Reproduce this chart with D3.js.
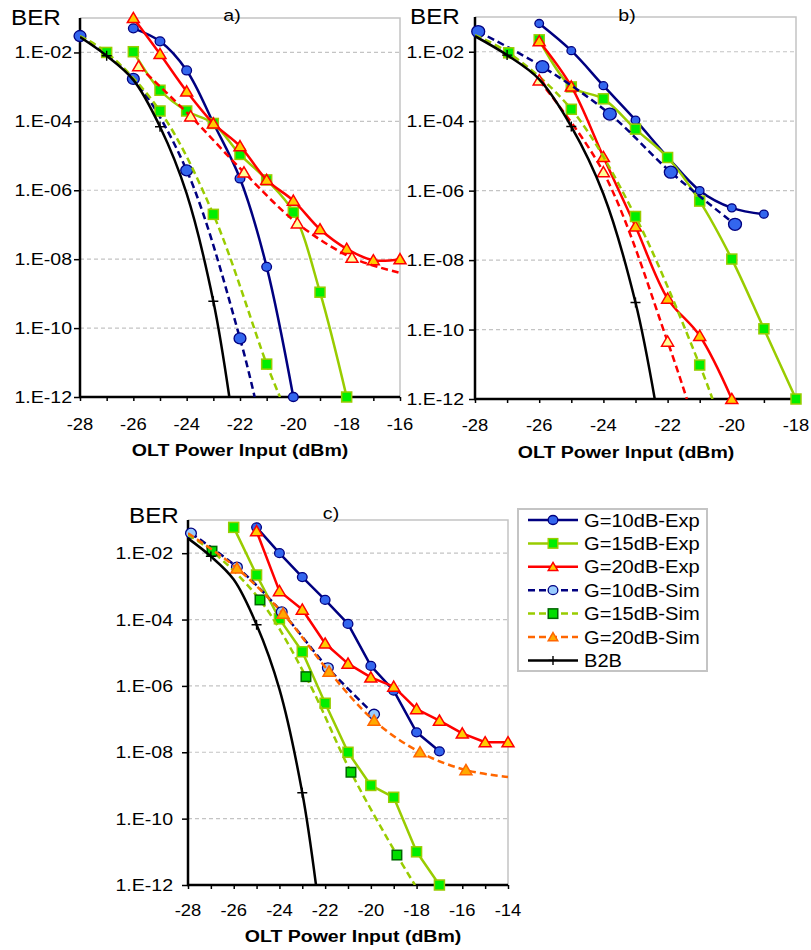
<!DOCTYPE html>
<html><head><meta charset="utf-8">
<script src="https://cdn.jsdelivr.net/npm/d3@7"></script>
<style>
body{margin:0;background:#fff}
text{font-family:"Liberation Sans",Arial,sans-serif;fill:#000}
</style>
</head><body>
<svg id="chart" width="811" height="950"></svg>
<script>
// ---------- data: [OLT power (dBm), BER] ----------
const seriesNames = ["G=10dB-Exp","G=15dB-Exp","G=20dB-Exp","G=10dB-Sim","G=15dB-Sim","G=20dB-Sim","B2B"];

// back-to-back reference, shared by all three panels
const b2b      = [[-28,2.8e-2],[-27,8e-3],[-26,1.6e-3],[-25,7e-5],[-24,8e-7],[-23,6e-10],[-22.4,1e-12]];
const b2bMarks = [-27,-25,-23];

// panel a)
const aG10exp = [[-26,5e-2],[-25,2.1e-2],[-24,3e-3],[-23,9e-5],[-22,2.2e-6],[-21,6e-9],[-20,1e-12]];
const aG15exp = [[-26,1.05e-2],[-25,8e-4],[-24,2e-4],[-23,8.7e-5],[-22,1.1e-5],[-21,2e-6],[-20,2.3e-7],[-19,1.1e-9],[-18,1e-12]];
const aG20exp = [[-26,1e-1],[-25,9e-3],[-24,7.4e-4],[-23,8.7e-5],[-22,1.9e-5],[-21,2e-6],[-20,5e-7],[-19,7.4e-8],[-18,2e-8],[-17,9.3e-9],[-16,1e-8]];
const aG10sim = [[-28,3e-2],[-26,1.7e-3],[-24,3.8e-6],[-22,5e-11],[-21.45,1e-12]];
const aG10simMarks = [-28,-26,-24,-22];
const aG15sim = [[-28,3e-2],[-27,1e-2],[-25,2e-4],[-23,2e-7],[-21,9e-12],[-20.5,1e-12]];
const aG15simMarks = [-27,-25,-23,-21];
const aG20sim = [[-25.8,4e-3],[-23.85,1.4e-4],[-21.85,3.3e-6],[-19.85,1.1e-7],[-17.8,1.1e-8],[-16,4e-9]];
const aG20simMarks = [-25.8,-23.85,-21.85,-19.85,-17.8];

// panel b)
const bG10exp = [[-26,6.5e-2],[-25,1.07e-2],[-24,1.05e-3],[-23,1.07e-4],[-22,9.3e-6],[-21,1e-6],[-20,3.2e-7],[-19,2.1e-7]];
const bG15exp = [[-26,2.2e-2],[-25,9.7e-4],[-24,4.4e-4],[-23,5.9e-5],[-22,9e-6],[-21,5e-7],[-20,1.07e-8],[-19,1.05e-10],[-18,1e-12]];
const bG20exp = [[-26,2e-2],[-25,1e-3],[-24,9.3e-6],[-23,9.3e-8],[-22,7.8e-10],[-21,6.6e-11],[-20,1e-12]];
const bG10sim = [[-27.9,3.8e-2],[-25.9,3.7e-3],[-23.8,1.6e-4],[-21.9,3.4e-6],[-19.9,1.07e-7]];
const bG10simMarks = [-27.9,-25.9,-23.8,-21.9,-19.9];
const bG15sim = [[-28,3e-2],[-26.95,9.3e-3],[-25,2.2e-4],[-23,1.8e-7],[-21,9.5e-12],[-20.6,1e-12]];
const bG15simMarks = [-26.95,-25,-23,-21];
const bG20sim = [[-26,1.5e-3],[-24,3.4e-6],[-22,4.5e-11],[-21.4,1e-12]];
const bG20simMarks = [-26,-24,-22];

// panel c)
const cG10exp = [[-25,6e-2],[-24,1e-2],[-23,1.9e-3],[-22,3.9e-4],[-21,7.4e-5],[-20,4e-6],[-19,7.2e-7],[-18,4e-8],[-17,1.07e-8]];
const cG15exp = [[-26,6e-2],[-25,2.2e-3],[-24,1.05e-4],[-23,1.07e-5],[-22,3e-7],[-21,1e-8],[-20,1e-9],[-19,4.4e-10],[-18,1e-11],[-17,1e-12]];
const cG20exp = [[-25,4.6e-2],[-24,7.2e-4],[-23,2e-4],[-22,1.9e-5],[-21,4.7e-6],[-20,1.8e-6],[-19,9.5e-7],[-18,2e-7],[-17,9e-8],[-16,3.7e-8],[-15,2e-8],[-14,2e-8]];
const cG10sim = [[-27.87,4e-2],[-25.86,3.8e-3],[-23.9,1.7e-4],[-21.88,3.5e-6],[-19.86,1.4e-7]];
const cG10simMarks = [-27.87,-25.86,-23.9,-21.88,-19.86];
const cG15sim = [[-28,3.5e-2],[-26.95,1.15e-2],[-24.85,3.9e-4],[-22.84,1.9e-6],[-20.87,2.5e-9],[-18.86,8e-12],[-18.07,1e-12]];
const cG15simMarks = [-26.95,-24.85,-22.84,-20.87,-18.86];
const cG20sim = [[-28,4e-2],[-25.86,3.5e-3],[-23.84,1.5e-4],[-21.83,2.7e-6],[-19.86,9e-8],[-17.85,1e-8],[-15.84,2.9e-9],[-14,1.8e-9]];
const cG20simMarks = [-25.86,-23.84,-21.83,-19.86,-17.85,-15.84];

const yTickValues = [1e-2,1e-4,1e-6,1e-8,1e-10,1e-12];
const xTitle = "OLT Power Input (dBm)";
const yTitle = "BER";

// ---------- drawing ----------
const svg = d3.select("#chart");
const STRETCH = 1.15;   // glyphs are drawn slightly wide
const NAVY = "#000080", LIME = "#99cc00", RED = "#ff0000";

const st = {
  g10exp:  {line:NAVY, dash:null, shape:"circle",   fill:"#3366ee", stroke:NAVY,  size:4.5},
  g15exp:  {line:LIME, dash:null, shape:"square",   fill:"#00ee00", stroke:LIME,  size:10},
  g20exp:  {line:RED,  dash:null, shape:"triangle", fill:"#ffcc00", stroke:RED,   size:12},
  g10simA: {line:NAVY, dash:"7,4", shape:"circle",  fill:"#3366ee", stroke:NAVY,  size:5.5},
  g15simA: {line:LIME, dash:"7,4", shape:"square",  fill:"#00ee00", stroke:LIME,  size:10},
  g20simA: {line:RED,  dash:"7,4", shape:"triangle",fill:"#ffff99", stroke:RED,   size:12},
  g10simC: {line:NAVY, dash:"7,4", shape:"circle",  fill:"#99ccff", stroke:NAVY,  size:5},
  g15simC: {line:LIME, dash:"7,4", shape:"square",  fill:"#00dd00", stroke:"#006600", size:9.5},
  g20simC: {line:"#ff6600", dash:"7,4", shape:"triangle", fill:"#ffaa00", stroke:"#ff6600", size:12},
  b2b:     {line:"#000", dash:null, shape:"plus", fill:"none", stroke:"#000", size:10}
};

function stretchedText(g, x, y, txt, opts) {
  const t = g.append("text")
    .attr("transform", `translate(${x},${y}) scale(${opts.stretch || STRETCH},1)`)
    .attr("font-size", opts.size)
    .attr("text-anchor", opts.anchor || "start")
    .text(txt);
  if (opts.bold) t.attr("font-weight", "bold");
  return t;
}

function drawMarker(g, s, x, y, sizeOverride) {
  const sz = sizeOverride || s.size;
  if (s.shape === "circle") {
    g.append("ellipse").attr("cx", x).attr("cy", y).attr("rx", sz * 1.08).attr("ry", sz)
      .attr("fill", s.fill).attr("stroke", s.stroke).attr("stroke-width", 1.3);
  } else if (s.shape === "square") {
    g.append("rect").attr("x", x - sz / 2).attr("y", y - sz / 2).attr("width", sz).attr("height", sz)
      .attr("fill", s.fill).attr("stroke", s.stroke).attr("stroke-width", 1.5);
  } else if (s.shape === "triangle") {
    const h = sz * 0.85;
    g.append("path").attr("d", `M${x},${y - h * 0.55}L${x + sz / 2},${y + h * 0.45}L${x - sz / 2},${y + h * 0.45}Z`)
      .attr("fill", s.fill).attr("stroke", s.stroke).attr("stroke-width", 1.5).attr("stroke-linejoin", "miter");
  } else if (s.shape === "plus") {
    g.append("path").attr("d", `M${x - sz / 2},${y}H${x + sz / 2}M${x},${y - sz / 2}V${y + sz / 2}`)
      .attr("stroke", s.stroke).attr("stroke-width", 1.4).attr("fill", "none");
  }
}

let clipId = 0;
function drawPanel(p) {
  const g = svg.append("g");
  const x = d3.scaleLinear().domain(p.xDomain).range([p.left, p.right]);
  const y = d3.scaleLog().domain([1e-12, 1e-1]).range([p.bottom, p.top]);

  // grid
  g.selectAll(".grid").data(yTickValues.slice(0, -1)).join("line")
    .attr("x1", p.left).attr("x2", p.right)
    .attr("y1", d => y(d)).attr("y2", d => y(d))
    .attr("stroke", "#c4c4c4").attr("stroke-width", 1.2).attr("stroke-dasharray", "4,3");
  // plot frame (top and right)
  g.append("path").attr("d", `M${p.left},${p.top}H${p.right}V${p.bottom}`)
    .attr("fill", "none").attr("stroke", "#c4c4c4").attr("stroke-width", 1.5);

  // y axis with log minor ticks
  const yAxis = d3.axisLeft(y).tickValues(yTickValues).tickSize(6).tickFormat("");
  const yMinor = [];
  for (let e = -12; e < -1; e++) for (let k = 1; k <= 9; k++) yMinor.push(k * Math.pow(10, e));
  yMinor.push(1e-1);
  const ya = g.append("g").attr("transform", `translate(${p.left},0)`);
  ya.call(d3.axisLeft(y).tickValues(yMinor).tickSize(4).tickFormat(""));
  ya.call(yAxis);
  ya.selectAll("line").attr("stroke", "#000").attr("stroke-width", 1.5);
  ya.select(".domain").remove();

  // x axis
  const xa = g.append("g").attr("transform", `translate(0,${p.bottom})`);
  xa.call(d3.axisBottom(x).tickValues(d3.range(p.xDomain[0], p.xDomain[1] + 0.5, 1)).tickSize(4).tickFormat(""));
  xa.selectAll("line").attr("stroke", "#000").attr("stroke-width", 1.5);
  xa.select(".domain").remove();

  // axis lines
  g.append("line").attr("x1", p.left).attr("x2", p.left).attr("y1", p.top).attr("y2", p.bottom + 1)
    .attr("stroke", "#000").attr("stroke-width", 2.5);
  g.append("line").attr("x1", p.left - 1).attr("x2", p.right).attr("y1", p.bottom).attr("y2", p.bottom)
    .attr("stroke", "#000").attr("stroke-width", 2.5);

  // tick labels
  yTickValues.forEach(v => {
    const e = Math.round(Math.log10(v));
    stretchedText(g, p.yLabelX, y(v) + 6, `1.E-${String(-e).padStart(2, "0")}`, {size: 17, anchor: "end"});
  });
  d3.range(p.xDomain[0], p.xDomain[1] + 0.5, 2).forEach(v => {
    stretchedText(g, x(v), p.xLabelY, String(v), {size: 16, anchor: "middle"});
  });
  stretchedText(g, p.titleX, p.titleY, xTitle, {size: 17, anchor: "middle", bold: true});
  stretchedText(g, p.berX, p.berY, yTitle, {size: 22, anchor: "start", stretch: 1.1});
  stretchedText(g, p.tagX, p.tagY, p.tag, {size: 17, anchor: "middle"});

  // clip for curves
  const cid = "clip" + (clipId++);
  svg.append("clipPath").attr("id", cid).append("rect")
    .attr("x", p.left).attr("y", p.top - 15).attr("width", p.right - p.left + 2).attr("height", p.bottom - p.top + 15);

  p.series.forEach(sr => {
    const s = st[sr.style];
    const curve = sr.smooth ? d3.curveCatmullRom.alpha(0.5) : d3.curveLinear;
    const line = d3.line().x(d => x(d[0])).y(d => y(d[1])).curve(curve);
    g.append("path").datum(sr.data).attr("d", line)
      .attr("clip-path", `url(#${cid})`)
      .attr("fill", "none").attr("stroke", s.line).attr("stroke-width", 2.5)
      .attr("stroke-dasharray", s.dash).attr("stroke-linejoin", "round");
    const pts = sr.marks ? sr.data.filter(d => sr.marks.includes(d[0])) : sr.data;
    pts.forEach(d => drawMarker(g, s, x(d[0]), y(d[1]), sr.size));
  });
}

drawPanel({
  tag: "a)", tagX: 232, tagY: 21,
  xDomain: [-28, -16], left: 80, right: 400, top: 18, bottom: 397,
  yLabelX: 72, xLabelY: 430, titleX: 240, titleY: 456, berX: 11, berY: 25,
  series: [
    {data: aG10exp, style: "g10exp", smooth: true},
    {data: aG15exp, style: "g15exp", smooth: true},
    {data: aG20exp, style: "g20exp", smooth: true},
    {data: aG10sim, marks: aG10simMarks, style: "g10simA", smooth: true},
    {data: aG15sim, marks: aG15simMarks, style: "g15simA", smooth: true},
    {data: aG20sim, marks: aG20simMarks, style: "g20simA", smooth: true},
    {data: b2b, marks: b2bMarks, style: "b2b", smooth: true}
  ]
});

drawPanel({
  tag: "b)", tagX: 627, tagY: 21,
  xDomain: [-28, -18], left: 475, right: 796, top: 17, bottom: 399,
  yLabelX: 464, xLabelY: 431, titleX: 626, titleY: 458, berX: 410, berY: 24,
  series: [
    {data: bG10exp, style: "g10exp", smooth: true, size: 4},
    {data: bG15exp, style: "g15exp", smooth: true},
    {data: bG20exp, style: "g20exp", smooth: true},
    {data: bG10sim, marks: bG10simMarks, style: "g10simA", smooth: true, size: 6},
    {data: bG15sim, marks: bG15simMarks, style: "g15simA", smooth: true},
    {data: bG20sim, marks: bG20simMarks, style: "g20simA", smooth: true},
    {data: b2b, marks: b2bMarks, style: "b2b", smooth: true}
  ]
});

drawPanel({
  tag: "c)", tagX: 331, tagY: 519,
  xDomain: [-28, -14], left: 188, right: 508, top: 520, bottom: 885,
  yLabelX: 173, xLabelY: 916, titleX: 353, titleY: 942, berX: 129, berY: 523,
  series: [
    {data: cG10exp, style: "g10exp", smooth: false},
    {data: cG15exp, style: "g15exp", smooth: false},
    {data: cG20exp, style: "g20exp", smooth: false},
    {data: cG10sim, marks: cG10simMarks, style: "g10simC", smooth: true},
    {data: cG15sim, marks: cG15simMarks, style: "g15simC", smooth: true},
    {data: cG20sim, marks: cG20simMarks, style: "g20simC", smooth: true},
    {data: b2b, marks: b2bMarks, style: "b2b", smooth: true}
  ]
});

// ---------- legend ----------
const legendStyles = ["g10exp","g15exp","g20exp","g10simC","g15simC","g20simC","b2b"];
const lg = svg.append("g");
lg.append("rect").attr("x", 518).attr("y", 509).attr("width", 189).attr("height", 162)
  .attr("fill", "#fff").attr("stroke", "#c4c4c4").attr("stroke-width", 2);
seriesNames.forEach((name, i) => {
  const s = st[legendStyles[i]];
  const yy = 520 + i * 23.4;
  lg.append("line").attr("x1", 528).attr("x2", 578).attr("y1", yy).attr("y2", yy)
    .attr("stroke", s.line).attr("stroke-width", 2.5).attr("stroke-dasharray", s.dash);
  drawMarker(lg, s, 553, yy, s.shape === "circle" ? 4.5 : (s.shape === "plus" ? 9 : 9.5));
  stretchedText(lg, 584, yy + 6.5, name, {size: 17.5, anchor: "start"});
});
</script>
</body></html>
